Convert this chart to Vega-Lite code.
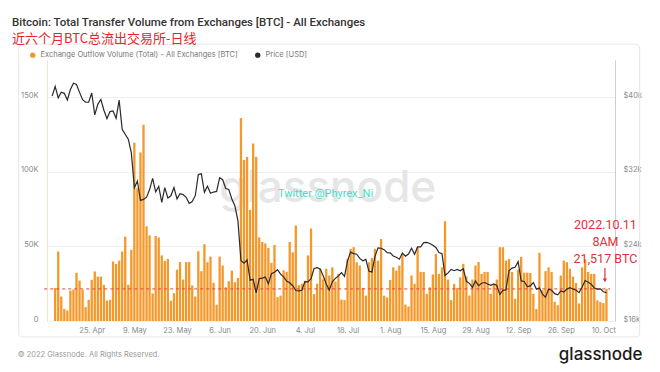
{
"$schema": "https://vega.github.io/schema/vega-lite/v6.json",
"width": 568, "height": 261,
"autosize": {"type": "none"},
"padding": {"left": 47, "top": 60, "right": 45, "bottom": 51},
"background": "white",
"config": {"view": {"stroke": null}, "font": "Inter"},
"title": {
  "text": "Bitcoin: Total Transfer Volume from Exchanges [BTC] - All Exchanges",
  "subtitle": "近六个月BTC总流出交易所-日线",
  "anchor": "start", "frame": "group", "dx": -35, "offset": -2,
  "font": "Roboto", "fontSize": 11.5, "fontWeight": 500, "color": "#333333",
  "subtitleFont": "Noto Sans CJK SC", "subtitleFontSize": 13, "subtitleColor": "#e8232a", "subtitlePadding": 4
},
"data": {"values": [
{"date":"2022-04-12","price":40127},
{"date":"2022-04-13","vol":22200,"price":41166},
{"date":"2022-04-14","vol":46600,"price":39935},
{"date":"2022-04-15","vol":16400,"price":40553},
{"date":"2022-04-16","vol":8100,"price":40424},
{"date":"2022-04-17","vol":7000,"price":39716},
{"date":"2022-04-18","vol":20400,"price":40827},
{"date":"2022-04-19","vol":21100,"price":41503},
{"date":"2022-04-20","vol":32300,"price":41374},
{"date":"2022-04-21","vol":27100,"price":40527},
{"date":"2022-04-22","vol":20900,"price":39741},
{"date":"2022-04-23","vol":9300,"price":39469},
{"date":"2022-04-24","vol":14200,"price":39469},
{"date":"2022-04-25","vol":27600,"price":40458},
{"date":"2022-04-26","vol":33200,"price":38118},
{"date":"2022-04-27","vol":29800,"price":39241},
{"date":"2022-04-28","vol":29800,"price":39773},
{"date":"2022-04-29","vol":24200,"price":38610},
{"date":"2022-04-30","vol":13700,"price":37714},
{"date":"2022-05-01","vol":14200,"price":38469},
{"date":"2022-05-02","vol":39900,"price":38529},
{"date":"2022-05-03","vol":38300,"price":37750},
{"date":"2022-05-04","vol":40500,"price":39698},
{"date":"2022-05-05","vol":46600,"price":36575},
{"date":"2022-05-06","vol":56600,"price":36040},
{"date":"2022-05-07","vol":24200,"price":35501},
{"date":"2022-05-08","vol":47700,"price":34059},
{"date":"2022-05-09","vol":119600,"price":30297},
{"date":"2022-05-10","vol":89000,"price":31022},
{"date":"2022-05-11","vol":113000,"price":28936},
{"date":"2022-05-12","vol":131500,"price":29047},
{"date":"2022-05-13","vol":63500,"price":29283},
{"date":"2022-05-14","vol":57500,"price":30101},
{"date":"2022-05-15","vol":18500,"price":31305},
{"date":"2022-05-16","vol":57000,"price":29862},
{"date":"2022-05-17","vol":56000,"price":30425},
{"date":"2022-05-18","vol":44000,"price":28720},
{"date":"2022-05-19","vol":40300,"price":30314},
{"date":"2022-05-20","vol":41600,"price":29200},
{"date":"2022-05-21","vol":13600,"price":29432},
{"date":"2022-05-22","vol":18600,"price":30323},
{"date":"2022-05-23","vol":34400,"price":29098},
{"date":"2022-05-24","vol":39500,"price":29655},
{"date":"2022-05-25","vol":27800,"price":29562},
{"date":"2022-05-26","vol":39500,"price":29267},
{"date":"2022-05-27","vol":39500,"price":28627},
{"date":"2022-05-28","vol":23800,"price":28814},
{"date":"2022-05-29","vol":16400,"price":29445},
{"date":"2022-05-30","vol":46800,"price":31726},
{"date":"2022-05-31","vol":33400,"price":31792},
{"date":"2022-06-01","vol":51400,"price":29799},
{"date":"2022-06-02","vol":39400,"price":30467},
{"date":"2022-06-03","vol":43200,"price":29704},
{"date":"2022-06-04","vol":25600,"price":29832},
{"date":"2022-06-05","vol":10900,"price":29906},
{"date":"2022-06-06","vol":43200,"price":31370},
{"date":"2022-06-07","vol":37200,"price":31155},
{"date":"2022-06-08","vol":22600,"price":30214},
{"date":"2022-06-09","vol":26700,"price":30112},
{"date":"2022-06-10","vol":33800,"price":29083},
{"date":"2022-06-11","vol":26000,"price":28360},
{"date":"2022-06-12","vol":28900,"price":26762},
{"date":"2022-06-13","vol":136000,"price":22487},
{"date":"2022-06-14","vol":108000,"price":22206},
{"date":"2022-06-15","vol":110000,"price":22572},
{"date":"2022-06-16","vol":74500,"price":20381},
{"date":"2022-06-17","vol":119000,"price":20471},
{"date":"2022-06-18","vol":110000,"price":19017},
{"date":"2022-06-19","vol":56000,"price":20553},
{"date":"2022-06-20","vol":53000,"price":20599},
{"date":"2022-06-21","vol":52000,"price":20711},
{"date":"2022-06-22","vol":49000,"price":19987},
{"date":"2022-06-23","vol":39000,"price":21085},
{"date":"2022-06-24","vol":51000,"price":21231},
{"date":"2022-06-25","vol":16000,"price":21502},
{"date":"2022-06-26","vol":17000,"price":21027},
{"date":"2022-06-27","vol":34000,"price":20735},
{"date":"2022-06-28","vol":33000,"price":20280},
{"date":"2022-06-29","vol":53000,"price":20104},
{"date":"2022-06-30","vol":46000,"price":19785},
{"date":"2022-07-01","vol":64000,"price":19269},
{"date":"2022-07-02","vol":24000,"price":19242},
{"date":"2022-07-03","vol":25000,"price":19297},
{"date":"2022-07-04","vol":27000,"price":20231},
{"date":"2022-07-05","vol":44000,"price":20190},
{"date":"2022-07-06","vol":62000,"price":20548},
{"date":"2022-07-07","vol":18000,"price":21637},
{"date":"2022-07-08","vol":25000,"price":21731},
{"date":"2022-07-09","vol":35000,"price":21592},
{"date":"2022-07-10","vol":28000,"price":20860},
{"date":"2022-07-11","vol":35000,"price":19970},
{"date":"2022-07-12","vol":30500,"price":19323},
{"date":"2022-07-13","vol":36000,"price":20212},
{"date":"2022-07-14","vol":26500,"price":20569},
{"date":"2022-07-15","vol":31600,"price":20836},
{"date":"2022-07-16","vol":14400,"price":21190},
{"date":"2022-07-17","vol":14000,"price":20779},
{"date":"2022-07-18","vol":41700,"price":22485},
{"date":"2022-07-19","vol":48400,"price":23389},
{"date":"2022-07-20","vol":49500,"price":23231},
{"date":"2022-07-21","vol":39400,"price":23164},
{"date":"2022-07-22","vol":37200,"price":22714},
{"date":"2022-07-23","vol":22200,"price":22465},
{"date":"2022-07-24","vol":17000,"price":22609},
{"date":"2022-07-25","vol":39400,"price":21361},
{"date":"2022-07-26","vol":42300,"price":21239},
{"date":"2022-07-27","vol":48400,"price":22930},
{"date":"2022-07-28","vol":40500,"price":23843},
{"date":"2022-07-29","vol":55000,"price":23804},
{"date":"2022-07-30","vol":17000,"price":23656},
{"date":"2022-07-31","vol":15800,"price":23336},
{"date":"2022-08-01","vol":27600,"price":23314},
{"date":"2022-08-02","vol":36000,"price":22978},
{"date":"2022-08-03","vol":33800,"price":22846},
{"date":"2022-08-04","vol":37200,"price":22630},
{"date":"2022-08-05","vol":45000,"price":23289},
{"date":"2022-08-06","vol":11000,"price":22961},
{"date":"2022-08-07","vol":9700,"price":23175},
{"date":"2022-08-08","vol":30500,"price":23810},
{"date":"2022-08-09","vol":24900,"price":23164},
{"date":"2022-08-10","vol":49500,"price":23947},
{"date":"2022-08-11","vol":32900,"price":23957},
{"date":"2022-08-12","vol":32900,"price":24402},
{"date":"2022-08-13","vol":18200,"price":24424},
{"date":"2022-08-14","vol":22600,"price":24319},
{"date":"2022-08-15","vol":31200,"price":24136},
{"date":"2022-08-16","vol":45000,"price":23883},
{"date":"2022-08-17","vol":31600,"price":23336},
{"date":"2022-08-18","vol":36000,"price":23212},
{"date":"2022-08-19","vol":66900,"price":20877},
{"date":"2022-08-20","vol":27800,"price":21166},
{"date":"2022-08-21","vol":14000,"price":21534},
{"date":"2022-08-22","vol":24900,"price":21398},
{"date":"2022-08-23","vol":22200,"price":21528},
{"date":"2022-08-24","vol":29300,"price":21395},
{"date":"2022-08-25","vol":38300,"price":21600},
{"date":"2022-08-26","vol":30000,"price":20260},
{"date":"2022-08-27","vol":17100,"price":20041},
{"date":"2022-08-28","vol":27800,"price":19616},
{"date":"2022-08-29","vol":37200,"price":20297},
{"date":"2022-08-30","vol":39500,"price":19796},
{"date":"2022-08-31","vol":31600,"price":20050},
{"date":"2022-09-01","vol":32900,"price":20127},
{"date":"2022-09-02","vol":32900,"price":19969},
{"date":"2022-09-03","vol":18200,"price":19832},
{"date":"2022-09-04","vol":24900,"price":19986},
{"date":"2022-09-05","vol":27800,"price":19813},
{"date":"2022-09-06","vol":49500,"price":18837},
{"date":"2022-09-07","vol":49500,"price":19290},
{"date":"2022-09-08","vol":40500,"price":19329},
{"date":"2022-09-09","vol":41600,"price":21381},
{"date":"2022-09-10","vol":32900,"price":21680},
{"date":"2022-09-11","vol":14900,"price":21769},
{"date":"2022-09-12","vol":34400,"price":22370},
{"date":"2022-09-13","vol":43000,"price":20296},
{"date":"2022-09-14","vol":32400,"price":20242},
{"date":"2022-09-15","vol":32400,"price":19701},
{"date":"2022-09-16","vol":32200,"price":19772},
{"date":"2022-09-17","vol":18200,"price":20127},
{"date":"2022-09-18","vol":8000,"price":19420},
{"date":"2022-09-19","vol":45700,"price":19544},
{"date":"2022-09-20","vol":20600,"price":18891},
{"date":"2022-09-21","vol":33400,"price":18547},
{"date":"2022-09-22","vol":36000,"price":19413},
{"date":"2022-09-23","vol":32900,"price":19297},
{"date":"2022-09-24","vol":12900,"price":18937},
{"date":"2022-09-25","vol":10600,"price":18803},
{"date":"2022-09-26","vol":30500,"price":19222},
{"date":"2022-09-27","vol":40500,"price":19110},
{"date":"2022-09-28","vol":39400,"price":19426},
{"date":"2022-09-29","vol":35000,"price":19573},
{"date":"2022-09-30","vol":29800,"price":19431},
{"date":"2022-10-01","vol":25500,"price":19312},
{"date":"2022-10-02","vol":11800,"price":19044},
{"date":"2022-10-03","vol":36000,"price":19623},
{"date":"2022-10-04","vol":41400,"price":20336},
{"date":"2022-10-05","vol":32900,"price":20160},
{"date":"2022-10-06","vol":31600,"price":19955},
{"date":"2022-10-07","vol":31600,"price":19546},
{"date":"2022-10-08","vol":13800,"price":19417},
{"date":"2022-10-09","vol":12700,"price":19446},
{"date":"2022-10-10","vol":12000,"price":19141},
{"date":"2022-10-11","vol":21517,"price":19052}
]},
"layer": [
  {"layer": [
    {"data": {"values": [{}]},
     "mark": {"type": "rect", "fill": null, "stroke": "#e6e6e6", "strokeWidth": 1, "cornerRadius": 4},
     "encoding": {
       "x": {"datum": {"year": 2022, "month": 4, "date": 1, "hours": 1, "utc": true}, "type": "temporal", "scale": {"type": "utc", "domain": [{"year": 2022, "month": 4, "date": 11, "hours": 23, "utc": true}, {"year": 2022, "month": 10, "date": 12, "hours": 4, "utc": true}]},
             "axis": {"values": [
               {"year": 2022, "month": 4, "date": 25, "utc": true},
               {"year": 2022, "month": 5, "date": 9, "utc": true},
               {"year": 2022, "month": 5, "date": 23, "utc": true},
               {"year": 2022, "month": 6, "date": 6, "utc": true},
               {"year": 2022, "month": 6, "date": 20, "utc": true},
               {"year": 2022, "month": 7, "date": 4, "utc": true},
               {"year": 2022, "month": 7, "date": 18, "utc": true},
               {"year": 2022, "month": 8, "date": 1, "utc": true},
               {"year": 2022, "month": 8, "date": 15, "utc": true},
               {"year": 2022, "month": 8, "date": 29, "utc": true},
               {"year": 2022, "month": 9, "date": 12, "utc": true},
               {"year": 2022, "month": 9, "date": 26, "utc": true},
               {"year": 2022, "month": 10, "date": 10, "utc": true}],
               "format": "%-d. %b", "grid": false, "ticks": false, "domain": false,
               "labelColor": "#8a8a8a", "labelFontSize": 7.5, "labelPadding": 5, "title": null}},
       "x2": {"datum": {"year": 2022, "month": 10, "date": 21, "hours": 22, "utc": true}},
       "y": {"datum": 185600, "type": "quantitative", "scale": {"domain": [0, 175000], "nice": false},
             "axis": {"values": [0, 25000, 50000, 75000, 100000, 125000, 150000, 175000],
               "labelExpr": "datum.value % 50000 == 0 && datum.value < 175000 ? (datum.value == 0 ? '0' : (datum.value / 1000) + 'K') : ''",
               "grid": true, "gridColor": "#efefef", "ticks": false, "domainColor": "#fbe2c4",
               "labelColor": "#8a8a8a", "labelFontSize": 7.5, "labelPadding": 9, "labelBaseline": "alphabetic", "title": null}},
       "y2": {"datum": -10700}
     }},
    {"data": {"values": [{}]},
     "mark": {"type": "text", "text": "glassnode", "fontSize": 44, "font": "Inter", "fontWeight": 500, "color": "#e6e6e6", "align": "center", "baseline": "alphabetic"},
     "encoding": {
       "x": {"datum": {"year": 2022, "month": 7, "date": 11, "hours": 12, "utc": true}, "type": "temporal", "scale": {"type": "utc", "domain": [{"year": 2022, "month": 4, "date": 11, "hours": 23, "utc": true}, {"year": 2022, "month": 10, "date": 12, "hours": 4, "utc": true}]}},
       "y": {"datum": 79700, "type": "quantitative", "scale": {"domain": [0, 175000], "nice": false}}
     }},
    {"mark": {"type": "bar", "width": 2.3},
     "encoding": {
       "x": {"field": "date", "type": "temporal",
             "scale": {"type": "utc", "domain": [{"year": 2022, "month": 4, "date": 11, "hours": 23, "utc": true}, {"year": 2022, "month": 10, "date": 12, "hours": 4, "utc": true}]},
             "axis": {"values": [
               {"year": 2022, "month": 4, "date": 25, "utc": true},
               {"year": 2022, "month": 5, "date": 9, "utc": true},
               {"year": 2022, "month": 5, "date": 23, "utc": true},
               {"year": 2022, "month": 6, "date": 6, "utc": true},
               {"year": 2022, "month": 6, "date": 20, "utc": true},
               {"year": 2022, "month": 7, "date": 4, "utc": true},
               {"year": 2022, "month": 7, "date": 18, "utc": true},
               {"year": 2022, "month": 8, "date": 1, "utc": true},
               {"year": 2022, "month": 8, "date": 15, "utc": true},
               {"year": 2022, "month": 8, "date": 29, "utc": true},
               {"year": 2022, "month": 9, "date": 12, "utc": true},
               {"year": 2022, "month": 9, "date": 26, "utc": true},
               {"year": 2022, "month": 10, "date": 10, "utc": true}],
               "format": "%-d. %b", "grid": false, "ticks": false, "domain": false,
               "labelColor": "#8a8a8a", "labelFontSize": 7.5, "labelPadding": 5, "title": null}},
       "y": {"field": "vol", "type": "quantitative",
             "scale": {"domain": [0, 175000], "nice": false},
             "axis": {"values": [0, 25000, 50000, 75000, 100000, 125000, 150000, 175000],
               "labelExpr": "datum.value % 50000 == 0 && datum.value < 175000 ? (datum.value == 0 ? '0' : (datum.value / 1000) + 'K') : ''",
               "grid": true, "gridColor": "#efefef", "ticks": false, "domainColor": "#fbe2c4",
               "labelColor": "#8a8a8a", "labelFontSize": 7.5, "labelPadding": 9, "labelBaseline": "alphabetic", "title": null}},
       "color": {"datum": "Exchange Outflow Volume (Total) - All Exchanges [BTC]",
                 "scale": {"domain": ["Exchange Outflow Volume (Total) - All Exchanges [BTC]", "Price [USD]"], "range": ["#f5982a", "#2a2a2a"]},
                 "legend": {"title": null, "orient": "none", "legendX": -18, "legendY": -9, "direction": "horizontal",
                   "symbolType": "circle", "symbolSize": 28, "symbolStrokeWidth": 0, "columnPadding": 16, "labelLimit": 400,
                   "labelFontSize": 7.5, "labelColor": "#777", "labelFont": "Inter",
                   "encode": {"symbols": {"update": {"fill": {"scale": "color", "field": "value"}, "stroke": {"value": "transparent"}, "shape": {"value": "circle"}}}}}}
     }},
    {"data": {"values": [{}]},
     "mark": {"type": "rule", "color": "#e8413c", "strokeDash": [3, 3], "strokeWidth": 1},
     "encoding": {
       "x": {"datum": {"year": 2022, "month": 4, "date": 9, "hours": 10, "utc": true}, "type": "temporal", "scale": {"type": "utc", "domain": [{"year": 2022, "month": 4, "date": 11, "hours": 23, "utc": true}, {"year": 2022, "month": 10, "date": 12, "hours": 4, "utc": true}]}},
       "x2": {"datum": {"year": 2022, "month": 10, "date": 12, "hours": 4, "utc": true}},
       "y": {"datum": 21517, "type": "quantitative", "scale": {"domain": [0, 175000], "nice": false}}
     }},
    {"data": {"values": [{}]},
     "mark": {"type": "text", "text": "Twitter @Phyrex_Ni", "fontSize": 11, "font": "Roboto", "color": "#3fe0c8", "align": "center", "baseline": "alphabetic"},
     "encoding": {
       "x": {"datum": {"year": 2022, "month": 7, "date": 10, "hours": 18, "utc": true}, "type": "temporal", "scale": {"type": "utc", "domain": [{"year": 2022, "month": 4, "date": 11, "hours": 23, "utc": true}, {"year": 2022, "month": 10, "date": 12, "hours": 4, "utc": true}]}},
       "y": {"datum": 83000, "type": "quantitative", "scale": {"domain": [0, 175000], "nice": false}}
     }},
    {"data": {"values": [{}]},
     "mark": {"type": "text", "text": ["2022.10.11", "8AM", "21,517 BTC"], "fontSize": 12.5, "font": "Roboto", "color": "#e0303a", "align": "center", "baseline": "alphabetic", "lineHeight": 17, "dy": -60, "dx": -1},
     "encoding": {
       "x": {"datum": {"year": 2022, "month": 10, "date": 11, "utc": true}, "type": "temporal", "scale": {"type": "utc", "domain": [{"year": 2022, "month": 4, "date": 11, "hours": 23, "utc": true}, {"year": 2022, "month": 10, "date": 12, "hours": 4, "utc": true}]}},
       "y": {"datum": 21517, "type": "quantitative", "scale": {"domain": [0, 175000], "nice": false}}
     }},
    {"data": {"values": [{}]},
     "mark": {"type": "rule", "color": "#e0303a", "strokeWidth": 1.2},
     "encoding": {
       "x": {"datum": {"year": 2022, "month": 10, "date": 10, "hours": 12, "utc": true}, "type": "temporal", "scale": {"type": "utc", "domain": [{"year": 2022, "month": 4, "date": 11, "hours": 23, "utc": true}, {"year": 2022, "month": 10, "date": 12, "hours": 4, "utc": true}]}},
       "y": {"datum": 35600, "type": "quantitative", "scale": {"domain": [0, 175000], "nice": false}},
       "y2": {"datum": 28000}
     }},
    {"data": {"values": [{}]},
     "mark": {"type": "point", "shape": "triangle-down", "filled": true, "color": "#e0303a", "size": 18, "opacity": 1},
     "encoding": {
       "x": {"datum": {"year": 2022, "month": 10, "date": 10, "hours": 12, "utc": true}, "type": "temporal", "scale": {"type": "utc", "domain": [{"year": 2022, "month": 4, "date": 11, "hours": 23, "utc": true}, {"year": 2022, "month": 10, "date": 12, "hours": 4, "utc": true}]}},
       "y": {"datum": 27200, "type": "quantitative", "scale": {"domain": [0, 175000], "nice": false}}
     }},
    {"data": {"values": [{}]},
     "mark": {"type": "text", "text": "© 2022 Glassnode. All Rights Reserved.", "fontSize": 7.5, "font": "Inter", "color": "#9a9a9a", "align": "left", "baseline": "middle"},
     "encoding": {
       "x": {"datum": {"year": 2022, "month": 3, "date": 31, "hours": 17, "utc": true}, "type": "temporal", "scale": {"type": "utc", "domain": [{"year": 2022, "month": 4, "date": 11, "hours": 23, "utc": true}, {"year": 2022, "month": 10, "date": 12, "hours": 4, "utc": true}]}},
       "y": {"datum": -22800, "type": "quantitative", "scale": {"domain": [0, 175000], "nice": false}}
     }},
    {"data": {"values": [{}]},
     "mark": {"type": "text", "text": "glassnode", "fontSize": 17, "font": "Inter", "fontWeight": 500, "color": "#1a1a1a", "align": "right", "baseline": "middle"},
     "encoding": {
       "x": {"datum": {"year": 2022, "month": 10, "date": 22, "hours": 21, "utc": true}, "type": "temporal", "scale": {"type": "utc", "domain": [{"year": 2022, "month": 4, "date": 11, "hours": 23, "utc": true}, {"year": 2022, "month": 10, "date": 12, "hours": 4, "utc": true}]}},
       "y": {"datum": -22800, "type": "quantitative", "scale": {"domain": [0, 175000], "nice": false}}
     }}
  ]},
  {"mark": {"type": "line", "strokeWidth": 1.2, "interpolate": "linear"},
   "encoding": {
     "x": {"field": "date", "type": "temporal", "scale": {"type": "utc", "domain": [{"year": 2022, "month": 4, "date": 11, "hours": 23, "utc": true}, {"year": 2022, "month": 10, "date": 12, "hours": 4, "utc": true}]},
           "axis": {"values": [
               {"year": 2022, "month": 4, "date": 25, "utc": true},
               {"year": 2022, "month": 5, "date": 9, "utc": true},
               {"year": 2022, "month": 5, "date": 23, "utc": true},
               {"year": 2022, "month": 6, "date": 6, "utc": true},
               {"year": 2022, "month": 6, "date": 20, "utc": true},
               {"year": 2022, "month": 7, "date": 4, "utc": true},
               {"year": 2022, "month": 7, "date": 18, "utc": true},
               {"year": 2022, "month": 8, "date": 1, "utc": true},
               {"year": 2022, "month": 8, "date": 15, "utc": true},
               {"year": 2022, "month": 8, "date": 29, "utc": true},
               {"year": 2022, "month": 9, "date": 12, "utc": true},
               {"year": 2022, "month": 9, "date": 26, "utc": true},
               {"year": 2022, "month": 10, "date": 10, "utc": true}],
               "format": "%-d. %b", "grid": false, "ticks": false, "domain": false,
               "labelColor": "#8a8a8a", "labelFontSize": 7.5, "labelPadding": 5, "title": null}},
     "y": {"field": "price", "type": "quantitative",
           "scale": {"domain": [16000, 44000], "nice": false, "zero": false},
           "axis": {"orient": "right", "values": [16000, 24000, 32000, 40000],
             "labelExpr": "'$' + (datum.value / 1000) + 'k'",
             "grid": false, "ticks": false, "domainColor": "#d0d0d0",
             "labelColor": "#8a8a8a", "labelFontSize": 7.5, "labelPadding": 8, "labelBaseline": "alphabetic", "title": null}},
     "color": {"datum": "Price [USD]"}
   }}
],
"resolve": {"scale": {"y": "independent"}}
}
